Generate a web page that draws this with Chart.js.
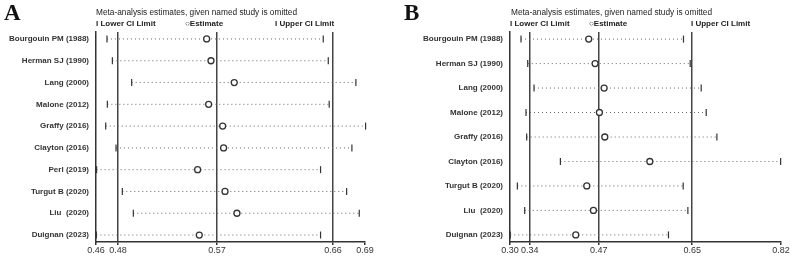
<!DOCTYPE html>
<html>
<head>
<meta charset="utf-8">
<script src="https://cdn.jsdelivr.net/npm/chart.js@4"></script>
<style>
html,body{margin:0;padding:0;background:#fff;}
#wrap{position:relative;width:798px;height:263px;overflow:hidden;font-family:"Liberation Sans",Arial,sans-serif;color:#333;}
canvas{position:absolute;top:0;}
.t{position:absolute;white-space:nowrap;font-size:8.3px;line-height:10px;color:#222;}
.lg{font-weight:bold;font-size:8px;}
.pl{position:absolute;font-family:"Liberation Serif","Times New Roman",serif;font-weight:bold;font-size:23px;line-height:22px;color:#111;}
</style>
</head>
<body>
<div id="wrap">
  <canvas id="cA" width="400" height="263" style="left:0;width:400px;height:263px"></canvas>
  <canvas id="cB" width="398" height="263" style="left:400px;width:398px;height:263px"></canvas>
  <div class="pl" style="left:4px;top:2px">A</div>
  <div class="pl" style="left:404px;top:2px">B</div>
  <div class="t" style="left:96px;top:7px">Meta-analysis estimates, given named study is omitted</div>
  <div class="t lg" style="left:96px;top:19px">I Lower CI Limit</div>
  <div class="t lg" style="left:185px;top:19px">○Estimate</div>
  <div class="t lg" style="left:275px;top:19px">I Upper CI Limit</div>
  <div class="t" style="left:511px;top:7px">Meta-analysis estimates, given named study is omitted</div>
  <div class="t lg" style="left:510px;top:19px">I Lower CI Limit</div>
  <div class="t lg" style="left:589px;top:19px">○Estimate</div>
  <div class="t lg" style="left:691px;top:19px">I Upper CI Limit</div>
</div>
<script>
// ---- Panel A data ----
const studiesA = ["Bourgouin PM (1988)","Herman SJ (1990)","Lang (2000)","Malone (2012)","Graffy (2016)","Clayton (2016)","Perl (2019)","Turgut B (2020)","Liu  (2020)","Duignan (2023)"];
const lowerA = [0.4694,0.4740,0.4905,0.4697,0.4683,0.4771,0.4605,0.4825,0.4919,0.4603];
const estA   = [0.5546,0.5583,0.5782,0.5563,0.5683,0.5691,0.5469,0.5703,0.5805,0.5483];
const upperA = [0.6543,0.6586,0.6822,0.6594,0.6905,0.6788,0.6520,0.6743,0.6851,0.6520];
const refA = [0.4788,0.5634,0.6626];
const tickValsA = [0.46,0.4788,0.5634,0.6626,0.69];
const tickLabelsA = ["0.46","0.48","0.57","0.66","0.69"];

// ---- Panel B data ----
const studiesB = ["Bourgouin PM (1988)","Herman SJ (1990)","Lang (2000)","Malone (2012)","Graffy (2016)","Clayton (2016)","Turgut B (2020)","Liu  (2020)","Duignan (2023)"];
const lowerB = [0.3211,0.3340,0.3461,0.3307,0.3320,0.3967,0.3141,0.3282,0.3005];
const estB   = [0.4511,0.4633,0.4806,0.4716,0.4819,0.5683,0.4473,0.4601,0.4262];
const upperB = [0.6329,0.6458,0.6669,0.6765,0.6970,0.8193,0.6323,0.6413,0.6041];
const refB = [0.3378,0.4704,0.6496];
const tickValsB = [0.30,0.3378,0.4704,0.6496,0.82];
const tickLabelsB = ["0.30","0.34","0.47","0.65","0.82"];

function makeChart(id, studies, lower, est, upper, refs, tickVals, tickLabels, xmin, xmax, yAxisWidth, padRight, yMargin) {
  const seg = [];
  studies.forEach((s,i)=>{ seg.push({x:lower[i],y:i}); seg.push({x:upper[i],y:i}); seg.push({x:null,y:null}); });
  const n = studies.length;
  new Chart(document.getElementById(id), {
    type: 'scatter',
    data: { datasets: [
      { data: est.map((v,i)=>({x:v,y:i})), pointStyle:'circle', pointRadius:3, pointBorderWidth:1.3,
        borderColor:'#333', backgroundColor:'#fff', showLine:false, order:0, clip:false },
      { data: lower.map((v,i)=>({x:v,y:i})), pointStyle:'line', rotation:90, pointRadius:3.5, pointBorderWidth:1.2,
        borderColor:'#333', showLine:false, order:1, clip:false },
      { data: upper.map((v,i)=>({x:v,y:i})), pointStyle:'line', rotation:90, pointRadius:3.5, pointBorderWidth:1.2,
        borderColor:'#333', showLine:false, order:1, clip:false },
      { data: seg, showLine:true, spanGaps:false, pointRadius:0, borderColor:'#666', borderWidth:1,
        borderDash:[1,3], order:3, clip:false }
    ]},
    options: {
      responsive:false, animation:false, devicePixelRatio:1,
      layout:{ padding:{ top:32, right:padRight, left:0, bottom:0 } },
      plugins:{ legend:{display:false}, tooltip:{enabled:false} },
      scales:{
        x:{ type:'linear', min:xmin, max:xmax,
          afterBuildTicks:(sc)=>{ sc.ticks = tickVals.map(v=>({value:v})); },
          afterFit:(sc)=>{ sc.height = 21; },
          ticks:{ autoSkip:false, maxRotation:0, padding:0, color:'#333',
            font:{family:'"Liberation Sans", Arial, sans-serif', size:9},
            callback:(v,i)=>tickLabels[i] },
          grid:{ drawOnChartArea:true, tickLength:3, lineWidth:1.5, tickColor:'#333',
            color:(c)=> (c.tick && refs.includes(c.tick.value)) ? '#444' : 'rgba(0,0,0,0)' },
          border:{ display:true, color:'#333', width:1.5 }
        },
        y:{ type:'linear', reverse:true, min:-yMargin, max:n-1+yMargin,
          afterBuildTicks:(sc)=>{ sc.ticks = studies.map((s,i)=>({value:i})); },
          afterFit:(sc)=>{ sc.width = yAxisWidth; },
          ticks:{ autoSkip:false, padding:7, color:'#333',
            font:{family:'"Liberation Sans", Arial, sans-serif', size:8, weight:'bold'},
            callback:(v)=>studies[v] },
          grid:{ display:false, drawTicks:false },
          border:{ display:true, color:'#333', width:1.5 }
        }
      }
    }
  });
}

makeChart('cA', studiesA, lowerA, estA, upperA, refA, tickValsA, tickLabelsA, 0.46, 0.69, 96, 35, 0.32);
makeChart('cB', studiesB, lowerB, estB, upperB, refB, tickValsB, tickLabelsB, 0.30, 0.82, 110, 17, 0.29);
</script>
</body>
</html>
